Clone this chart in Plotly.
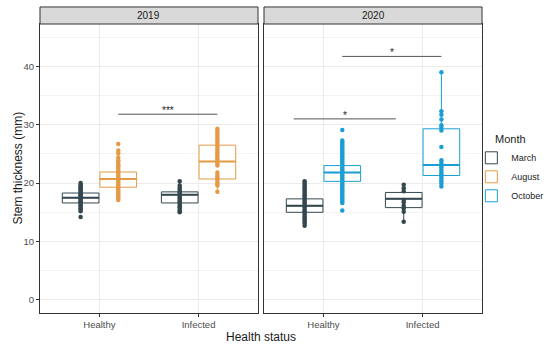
import plotly.graph_objects as go

# ---------------- data ----------------
years = ["2019", "2020"]
statuses = ["Healthy", "Infected"]
months = ["March", "August", "October"]
colors = {"March": "#34474F", "August": "#E59A45", "October": "#1A9FD4"}

# box statistics per (year, status, month): q1, median, q3, lower whisker, upper whisker
box_stats = {
    ("2019", "Healthy", "March"):   [16.6, 17.5, 18.3, 15.2, 20.0],
    ("2019", "Healthy", "August"):  [19.3, 20.7, 21.9, 17.1, 25.6],
    ("2019", "Infected", "March"):  [16.6, 18.0, 18.5, 15.0, 20.3],
    ("2019", "Infected", "August"): [20.7, 23.7, 26.5, 18.5, 29.3],
    ("2020", "Healthy", "March"):   [15.0, 16.1, 17.3, 12.7, 20.3],
    ("2020", "Healthy", "October"): [20.3, 21.8, 23.0, 16.6, 27.3],
    ("2020", "Infected", "March"):  [15.8, 17.3, 18.4, 13.4, 19.7],
    ("2020", "Infected", "October"):[21.3, 23.1, 29.3, 19.5, 39.0],
}

# individual observations (read from the dot columns)
points = {
    ("2019", "Healthy", "March"): [14.2, 15.2, 15.5, 15.7, 16.0, 16.2, 16.5, 16.7, 16.9, 17.1, 17.3, 17.5,
                                   17.7, 17.9, 18.1, 18.3, 18.5, 18.7, 18.9, 19.1, 19.3, 19.5, 19.7, 20.0],
    ("2019", "Healthy", "August"): [26.7, 25.6, 25.1, 24.4, 23.9, 23.6, 23.2, 22.9, 22.6, 22.2, 21.9, 21.6,
                                    21.3, 21.0, 20.7, 20.4, 20.1, 19.8, 19.5, 19.2, 18.9, 18.6, 18.3, 18.0,
                                    17.7, 17.4, 17.1],
    ("2019", "Infected", "March"): [20.3, 19.6, 19.2, 18.9, 18.6, 18.4, 18.1, 17.9, 17.6, 17.4, 17.1, 16.9,
                                    16.6, 16.3, 16.0, 15.8, 15.5, 15.2, 15.0],
    ("2019", "Infected", "August"): [29.3, 28.9, 28.5, 28.1, 27.7, 27.3, 26.9, 26.5, 26.1, 25.7, 25.3, 24.9,
                                     24.5, 24.1, 23.7, 23.3, 23.0, 21.8, 21.4, 21.0, 20.6, 20.2, 19.9, 19.6, 18.5],
    ("2020", "Healthy", "March"): [20.3, 20.0, 19.7, 19.4, 19.1, 18.8, 18.5, 18.2, 17.9, 17.6, 17.3, 17.0,
                                   16.7, 16.4, 16.1, 15.8, 15.5, 15.2, 14.9, 14.6, 14.3, 14.0, 13.7, 13.4,
                                   13.1, 12.7],
    ("2020", "Healthy", "October"): [29.1, 27.3, 27.0, 26.7, 26.4, 26.1, 25.8, 25.5, 25.2, 24.9, 24.6, 24.3,
                                     24.0, 23.7, 23.4, 23.1, 22.8, 22.5, 22.2, 21.9, 21.6, 21.3, 21.0, 20.7,
                                     20.4, 20.1, 19.8, 19.5, 19.2, 18.9, 18.6, 18.3, 18.0, 17.7, 17.4, 17.1,
                                     16.8, 16.6, 15.3],
    ("2020", "Infected", "March"): [19.7, 19.1, 18.6, 17.1, 16.7, 16.1, 15.7, 15.1, 13.4],
    ("2020", "Infected", "October"): [39.0, 32.3, 31.7, 30.9, 29.9, 29.5, 29.0, 26.2, 23.9, 23.5, 23.1,
                                      22.7, 22.3, 21.9, 21.5, 21.1, 20.7, 20.3, 19.9, 19.4],
}

# significance brackets: year, x from, x to, y, label
sig_year = ["2019", "2020", "2020"]
sig_x0 = [1.19, 0.70, 1.19]
sig_x1 = [2.19, 1.73, 2.19]
sig_y = [31.8, 31.0, 41.7]
sig_label = ["***", "*", "*"]

y_ticks = [0, 10, 20, 30, 40]

# ---------------- layout constants ----------------
dodge = 0.19
box_w = 0.37
panel_dom = [[0.0727, 0.4691], [0.48, 0.8764]]
y_dom = [0.0901, 0.9302]
strip_top = 0.9797
axis_color = "#333333"
font_family = "Liberation Sans, Arial, sans-serif"

fig = go.Figure()
shown = set()
legend_rank = {"March": 1, "August": 2, "October": 3}

for pi, year in enumerate(years):
    xa = "x" if pi == 0 else "x2"
    ya = "y" if pi == 0 else "y2"
    year_months = [m for m in months if any(k[0] == year and k[2] == m for k in box_stats)]
    for si, status in enumerate(statuses):
        for mi, month in enumerate(year_months):
            key = (year, status, month)
            if key not in box_stats:
                continue
            q1, med, q3, lo, hi = box_stats[key]
            pos = (si + 1) + (-dodge if mi == 0 else dodge)
            c = colors[month]
            showleg = month not in shown
            shown.add(month)
            fig.add_trace(go.Box(
                x=[pos], q1=[q1], median=[med], q3=[q3], lowerfence=[lo], upperfence=[hi],
                width=box_w, fillcolor="rgba(255,255,255,1)", line=dict(color=c, width=1),
                whiskerwidth=0, name=month, legendgroup=month, showlegend=showleg,
                legendrank=legend_rank[month], xaxis=xa, yaxis=ya, hoverinfo="skip",
            ))
            # thicker median
            fig.add_trace(go.Scatter(
                x=[pos - box_w / 2, pos + box_w / 2], y=[med, med], mode="lines",
                line=dict(color=c, width=2), showlegend=False, xaxis=xa, yaxis=ya,
                hoverinfo="skip",
            ))
            pts = points[key]
            fig.add_trace(go.Scatter(
                x=[pos] * len(pts), y=pts, mode="markers",
                marker=dict(color=c, size=4.5, line=dict(width=0)),
                showlegend=False, xaxis=xa, yaxis=ya, hoverinfo="skip",
            ))

# significance brackets
for yr, x0, x1, yv, lab in zip(sig_year, sig_x0, sig_x1, sig_y, sig_label):
    xa = "x" if yr == "2019" else "x2"
    ya = "y" if yr == "2019" else "y2"
    fig.add_trace(go.Scatter(
        x=[x0, x1], y=[yv, yv], mode="lines", line=dict(color="#555555", width=1),
        showlegend=False, xaxis=xa, yaxis=ya, hoverinfo="skip",
    ))
    fig.add_annotation(
        x=(x0 + x1) / 2, y=yv, xref=xa, yref=ya, text=lab, showarrow=False,
        xanchor="center", yanchor="bottom", yshift=-4,
        font=dict(size=10, color="#222222", family=font_family),
    )

axis_common = dict(
    showline=True, mirror=True, linecolor=axis_color, linewidth=1,
    gridcolor="#EBEBEB", gridwidth=1, zeroline=False,
    ticks="outside", ticklen=3, tickcolor=axis_color,
    tickfont=dict(size=9.5, color="#4D4D4D", family=font_family),
)

fig.update_layout(
    width=550, height=344,
    margin=dict(l=0, r=0, t=0, b=0),
    paper_bgcolor="white", plot_bgcolor="white",
    font=dict(family=font_family),
    xaxis=dict(domain=panel_dom[0], range=[0.4, 2.6], tickvals=[1, 2], ticktext=statuses, **axis_common),
    xaxis2=dict(domain=panel_dom[1], range=[0.4, 2.6], tickvals=[1, 2], ticktext=statuses, anchor="y2", **axis_common),
    yaxis=dict(domain=y_dom, range=[-2.25, 47.25], tickvals=y_ticks,
               minor=dict(dtick=5, tick0=0, showgrid=True, gridcolor="#F3F3F3", gridwidth=0.5),
               **axis_common),
    yaxis2=dict(domain=y_dom, range=[-2.25, 47.25], tickvals=y_ticks, anchor="x2",
                minor=dict(dtick=5, tick0=0, showgrid=True, gridcolor="#F3F3F3", gridwidth=0.5),
                **{**axis_common, "ticks": "", "showticklabels": False}),
    legend=dict(
        x=0.857, y=0.625, xanchor="left", yanchor="top",
        title=dict(text="Month", side="top center", font=dict(size=11, color="#1a1a1a")),
        font=dict(size=9, color="#1a1a1a"), traceorder="normal",
        itemwidth=30, tracegroupgap=0, bgcolor="rgba(0,0,0,0)",
    ),
)

# strips
for pi, year in enumerate(years):
    d = panel_dom[pi]
    fig.add_shape(type="rect", xref="paper", yref="paper", x0=d[0], x1=d[1], y0=y_dom[1], y1=strip_top,
                  fillcolor="#D9D9D9", line=dict(color=axis_color, width=1), layer="above")
    fig.add_annotation(x=(d[0] + d[1]) / 2, y=(y_dom[1] + strip_top) / 2, xref="paper", yref="paper",
                       xanchor="center", yanchor="middle",
                       text=year, showarrow=False, font=dict(size=10, color="#1a1a1a", family=font_family))

# axis titles
fig.add_annotation(x=(panel_dom[0][0] + panel_dom[1][1]) / 2, y=0.0203, xref="paper", yref="paper",
                   xanchor="center", yanchor="middle", text="Health status", showarrow=False,
                   font=dict(size=12, color="#1a1a1a", family=font_family))
fig.add_annotation(x=0.031, y=(y_dom[0] + y_dom[1]) / 2, xref="paper", yref="paper",
                   xanchor="center", yanchor="middle", textangle=-90, text="Stem thickness (mm)",
                   showarrow=False, font=dict(size=12, color="#1a1a1a", family=font_family))

fig.write_html("out.html", config={"displayModeBar": False},
               post_script="document.body.style.margin='0px';document.body.style.padding='0px';")
